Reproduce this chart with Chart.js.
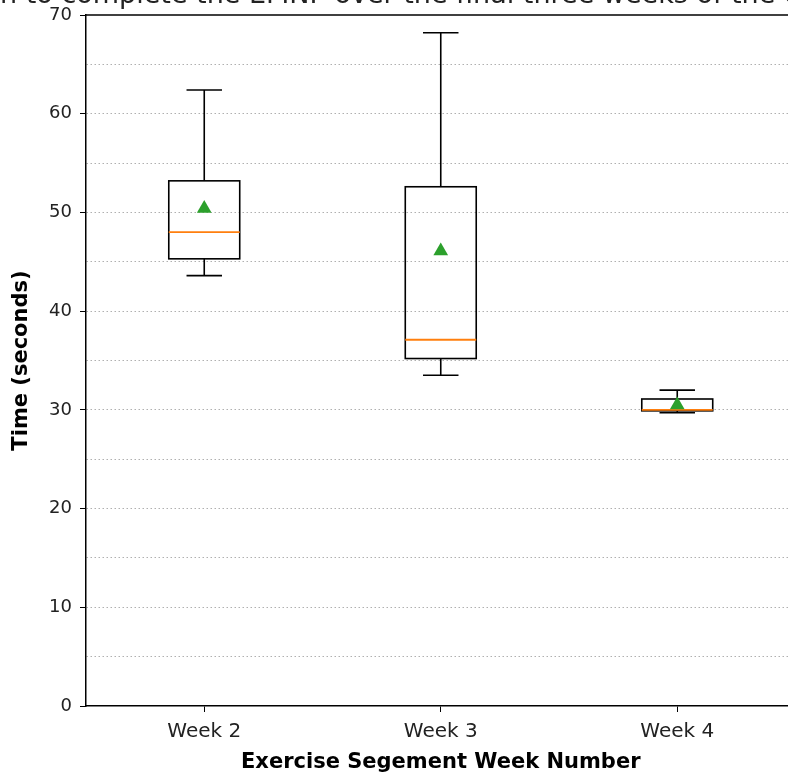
<!DOCTYPE html>
<html>
<head>
<meta charset="utf-8">
<script src="https://cdn.jsdelivr.net/npm/chart.js@4.4.1/dist/chart.umd.min.js"></script>
<style>
    html, body { margin: 0; padding: 0; background: #fff; overflow: hidden; }
    #wrap { width: 804px; height: 776px; position: relative; }
</style>
</head>
<body>
<div id="wrap"><canvas id="chart"></canvas></div>
<script>
// Data
const weeks = ['Week 2', 'Week 3', 'Week 4'];
const positions = [1, 2, 3];
const whiskerLow = [43.6, 33.5, 29.7];
const q1 = [45.3, 35.2, 29.9];
const medians = [48.0, 37.1, 30.0];
const q3 = [53.2, 52.6, 31.1];
const whiskerHigh = [62.4, 68.2, 32.0];
const means = [50.4, 46.1, 30.5];

const titleText = 'Time taken to complete the EMNP over the final three weeks of the exercise';
const boxWidth = 0.3;

// Draws the boxes, whiskers and medians through the chart scales
const boxPlotPlugin = {
    id: 'boxPlot',
    beforeDatasetsDraw(chart) {
        const { ctx, scales: { x, y } } = chart;
        ctx.save();
        positions.forEach((pos, i) => {
            const left = x.getPixelForValue(pos - boxWidth / 2);
            const right = x.getPixelForValue(pos + boxWidth / 2);
            const capL = x.getPixelForValue(pos - boxWidth / 4);
            const capR = x.getPixelForValue(pos + boxWidth / 4);
            const mid = x.getPixelForValue(pos);
            const yLo = y.getPixelForValue(whiskerLow[i]);
            const yQ1 = y.getPixelForValue(q1[i]);
            const yMed = y.getPixelForValue(medians[i]);
            const yQ3 = y.getPixelForValue(q3[i]);
            const yHi = y.getPixelForValue(whiskerHigh[i]);

            ctx.strokeStyle = '#000';
            ctx.lineWidth = 1.6;
            ctx.beginPath();
            // whiskers
            ctx.moveTo(mid, yQ1); ctx.lineTo(mid, yLo);
            ctx.moveTo(mid, yQ3); ctx.lineTo(mid, yHi);
            // caps
            ctx.moveTo(capL, yLo); ctx.lineTo(capR, yLo);
            ctx.moveTo(capL, yHi); ctx.lineTo(capR, yHi);
            ctx.stroke();
            // box
            ctx.strokeRect(left, yQ3, right - left, yQ1 - yQ3);
            // median
            ctx.strokeStyle = '#ff7f0e';
            ctx.lineWidth = 1.8;
            ctx.beginPath();
            ctx.moveTo(left, yMed); ctx.lineTo(right, yMed);
            ctx.stroke();
        });
        ctx.restore();
    },
    afterDraw(chart) {
        const { ctx, chartArea } = chart;
        ctx.save();
        // top spine
        ctx.strokeStyle = '#000';
        ctx.lineWidth = 1.5;
        ctx.beginPath();
        ctx.moveTo(chartArea.left, chartArea.top);
        ctx.lineTo(chartArea.right, chartArea.top);
        ctx.stroke();
        // title, mostly cut off by the top of the picture
        ctx.fillStyle = '#222';
        ctx.font = '27px "DejaVu Sans"';
        ctx.textAlign = 'left';
        ctx.textBaseline = 'alphabetic';
        const offset = ctx.measureText('Time take').width;
        ctx.fillText(titleText, -offset, 3);
        ctx.restore();
    }
};

const ctx = document.getElementById('chart').getContext('2d');
new Chart(ctx, {
    type: 'scatter',
    data: {
        datasets: [{
            label: 'Mean',
            data: positions.map((p, i) => ({ x: p, y: means[i] })),
            pointStyle: 'triangle',
            pointRadius: 8.5,
            pointHoverRadius: 8.5,
            backgroundColor: '#2ca02c',
            borderColor: '#2ca02c',
            borderWidth: 0
        }]
    },
    options: {
        responsive: true,
        maintainAspectRatio: false,
        animation: false,
        layout: { padding: { top: 15, right: 3, left: 0, bottom: 0 } },
        plugins: {
            legend: { display: false },
            tooltip: { enabled: false }
        },
        scales: {
            x: {
                type: 'linear',
                min: 0.5,
                max: 3.5,
                afterBuildTicks: (scale) => {
                    scale.ticks = positions.map(v => ({ value: v }));
                },
                afterFit: (scale) => {
                    scale.height = 70;
                    scale.paddingLeft = 0;
                    scale.paddingRight = 0;
                },
                ticks: {
                    callback: (v) => weeks[positions.indexOf(v)] || '',
                    color: '#222',
                    font: { family: 'DejaVu Sans', size: 20 },
                    padding: 8,
                    maxRotation: 0
                },
                grid: {
                    drawOnChartArea: false,
                    drawTicks: true,
                    tickLength: 6,
                    tickColor: '#000'
                },
                border: { display: true, color: '#000', width: 1.5 },
                title: {
                    display: true,
                    text: 'Exercise Segement Week Number',
                    color: '#000',
                    font: { family: 'DejaVu Sans', size: 21, weight: 'bold' },
                    padding: { top: 0, bottom: 1 }
                }
            },
            y: {
                min: 0,
                max: 70,
                afterFit: (scale) => {
                    scale.width = 86;
                    scale.paddingTop = 0;
                    scale.paddingBottom = 0;
                },
                ticks: {
                    stepSize: 5,
                    callback: (v) => (v % 10 === 0 ? v : ''),
                    color: '#222',
                    font: { family: 'DejaVu Sans', size: 18 },
                    padding: 8
                },
                grid: {
                    color: (c) => (c.tick && (c.tick.value === 0 || c.tick.value === 70) ? 'rgba(0,0,0,0)' : '#b0b0b0'),
                    lineWidth: 1,
                    tickLength: 6,
                    tickColor: (c) => (c.tick && c.tick.value % 10 === 0 ? '#000' : 'rgba(0,0,0,0)'),
                    tickBorderDash: []
                },
                border: { display: true, color: '#000', width: 1.5, dash: [1.5, 2.5] },
                title: {
                    display: true,
                    text: 'Time (seconds)',
                    color: '#000',
                    font: { family: 'DejaVu Sans', size: 21, weight: 'bold' },
                    padding: { top: 9, bottom: 0 }
                }
            }
        }
    },
    plugins: [boxPlotPlugin]
});
</script>
</body>
</html>
